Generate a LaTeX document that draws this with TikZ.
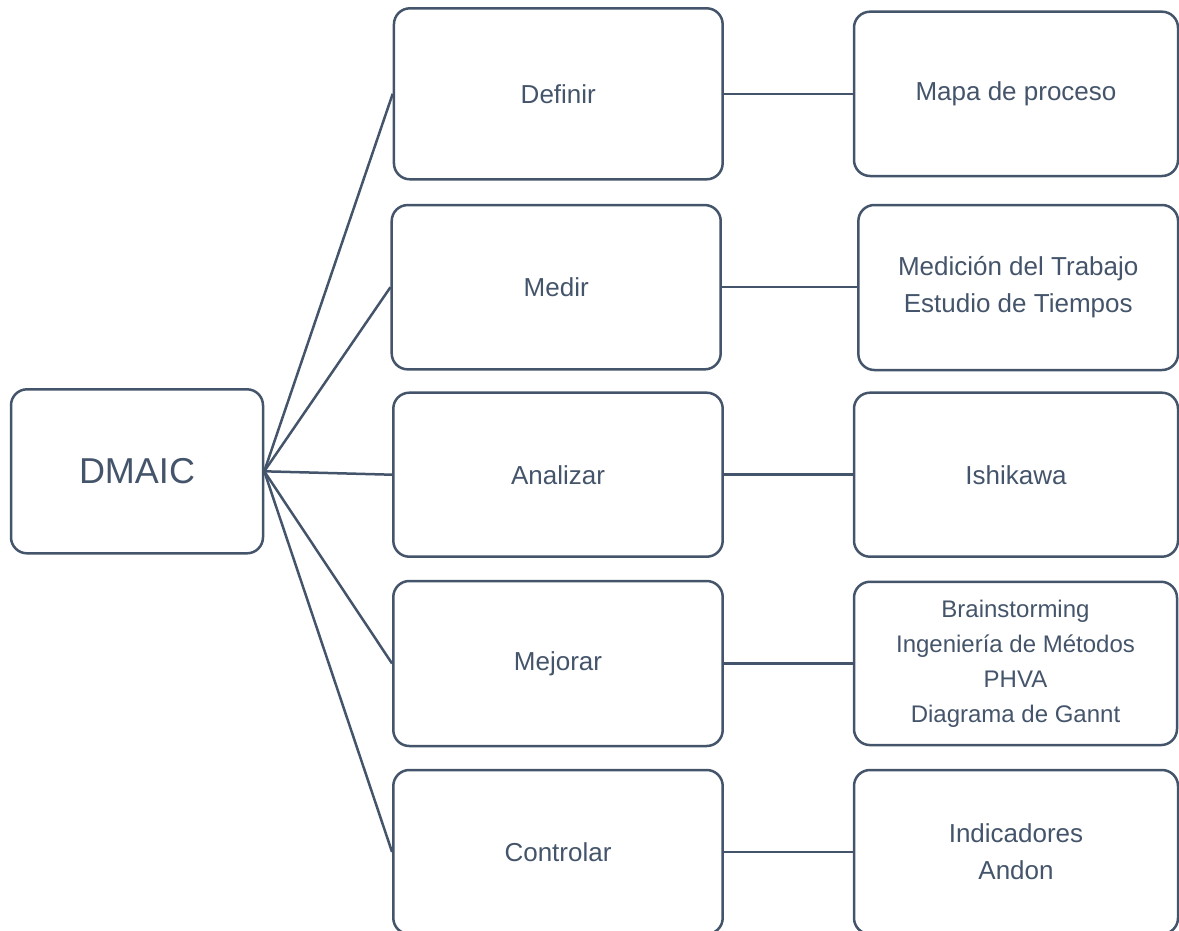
\documentclass[tikz,border=0pt]{standalone}
\usepackage{fontspec}
\setmainfont{Liberation Sans}
\definecolor{slate}{HTML}{44546A}
\begin{document}
\begin{tikzpicture}[x=1pt,y=-1pt,
  box/.style={draw=slate, line width=2.5pt, rounded corners=16pt, align=center,
    text=slate, inner sep=0pt, font=\fontsize{26}{37}\selectfont},
  link/.style={draw=slate, line width=2.5pt}]
\useasboundingbox (0,0) rectangle (1179,930);
\clip (0,0) rectangle (1179,930);

% root
\node[box, minimum width=252pt, minimum height=164pt,
      font=\fontsize{36}{40}\selectfont] (dmaic) at (137,471.3) {DMAIC};

% DMAIC phases
\node[box, minimum width=328.7pt, minimum height=171pt] (definir) at (558.3,93.8) {Definir};
\node[box, minimum width=329pt, minimum height=164.3pt] (medir) at (556.2,287.2) {Medir};
\node[box, minimum width=329.4pt, minimum height=164pt] (analizar) at (558,474.7) {Analizar};
\node[box, minimum width=329.4pt, minimum height=165pt] (mejorar) at (558,663.5) {Mejorar};
\node[box, minimum width=329.4pt, minimum height=164pt] (controlar) at (558,852) {Controlar};

% tools for each phase
\node[box, minimum width=324pt, minimum height=164.3pt] (mapa) at (1016,93.85) {Mapa de proceso};
\node[box, minimum width=319.7pt, minimum height=165pt] (medicion) at (1018.2,287.5)
  {Medición del Trabajo\\Estudio de Tiempos};
\node[box, minimum width=324pt, minimum height=164pt] (ishikawa) at (1016,474.7) {Ishikawa};
\node[box, minimum width=323pt, minimum height=163.3pt,
      font=\fontsize{24}{35}\selectfont] (mejoras) at (1015.5,663.4)
  {Brainstorming\\Ingeniería de Métodos\\PHVA\\Diagrama de Gannt};
\node[box, minimum width=324pt, minimum height=164pt] (indicadores) at (1016,852)
  {Indicadores\\Andon};

% connectors
\foreach \p in {definir,medir,analizar,mejorar,controlar}
  \draw[link] (dmaic.east) -- (\p.west);
\draw[link] (definir.east) -- (mapa.west |- definir.east);
\draw[link] (medir.east) -- (medicion.west |- medir.east);
\draw[link] (analizar.east) -- (ishikawa.west |- analizar.east);
\draw[link] (mejorar.east) -- (mejoras.west |- mejorar.east);
\draw[link] (controlar.east) -- (indicadores.west |- controlar.east);
\end{tikzpicture}
\end{document}
